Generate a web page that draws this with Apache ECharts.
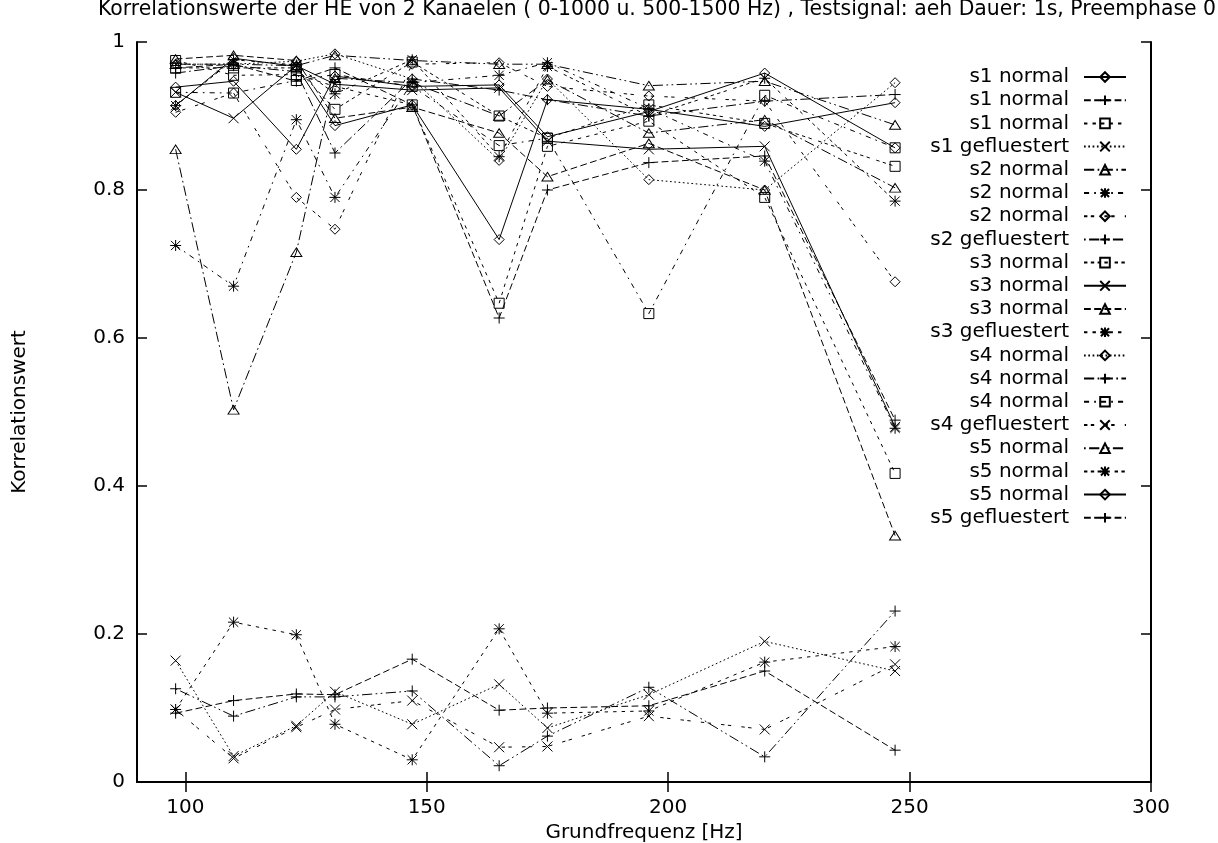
<!DOCTYPE html>
<html>
<head>
<meta charset="utf-8">
<script src="https://cdn.jsdelivr.net/npm/echarts@6/dist/echarts.min.js"></script>
<style>
  html, body { margin: 0; padding: 0; background: #fff; }
  #chart { width: 1218px; height: 843px; }
</style>
</head>
<body>
<div id="chart"></div>
<script>
// Fundamental frequencies of the test tones (Hz)
const freqs = [98, 110, 123, 131, 147, 165, 175, 196, 220, 247];
const xTicks = [100, 150, 200, 250, 300];

// Correlation values per speaker / recording
const s1NormalA   = [0.939, 0.947, 0.855, 0.954, 0.940, 0.942, 0.872, 0.906, 0.958, 0.857];
const s1NormalB   = [0.965, 0.970, 0.947, 0.965, 0.915, 0.627, 0.800, 0.837, 0.846, 0.489];
const s1NormalC   = [0.975, 0.955, 0.956, 0.940, 0.915, 0.647, 0.859, 0.893, 0.790, 0.417];
const s1Whisper   = [0.164, 0.035, 0.076, 0.122, 0.078, 0.132, 0.073, 0.118, 0.190, 0.150];
const s2NormalA   = [0.855, 0.503, 0.716, 0.951, 0.945, 0.900, 0.949, 0.877, 0.895, 0.803];
const s2NormalB   = [0.725, 0.670, 0.895, 0.790, 0.945, 0.955, 0.972, 0.910, 0.839, 0.478];
const s2NormalC   = [0.905, 0.931, 0.790, 0.747, 0.970, 0.972, 0.940, 0.927, 0.920, 0.676];
const s2Whisper   = [0.126, 0.089, 0.115, 0.115, 0.123, 0.022, 0.062, 0.128, 0.034, 0.231];
const s3NormalA   = [0.965, 0.965, 0.965, 0.909, 0.973, 0.900, 0.870, 0.915, 0.890, 0.832];
const s3NormalB   = [0.932, 0.897, 0.968, 0.943, 0.935, 0.938, 0.866, 0.855, 0.859, 0.480];
const s3NormalC   = [0.977, 0.982, 0.975, 0.897, 0.912, 0.877, 0.818, 0.863, 0.800, 0.333];
const s3Whisper   = [0.098, 0.216, 0.199, 0.078, 0.030, 0.207, 0.093, 0.096, 0.162, 0.183];
const s4NormalA   = [0.970, 0.970, 0.974, 0.984, 0.950, 0.840, 0.950, 0.814, 0.800, 0.945];
const s4NormalB   = [0.958, 0.968, 0.960, 0.850, 0.950, 0.935, 0.922, 0.900, 0.920, 0.929];
const s4NormalC   = [0.932, 0.931, 0.948, 0.956, 0.940, 0.860, 0.870, 0.633, 0.928, 0.857];
const s4Whisper   = [0.098, 0.032, 0.074, 0.098, 0.110, 0.047, 0.048, 0.089, 0.071, 0.159];
const s5NormalA   = [0.970, 0.970, 0.968, 0.982, 0.975, 0.970, 0.970, 0.941, 0.947, 0.888];
const s5NormalB   = [0.914, 0.976, 0.969, 0.930, 0.976, 0.845, 0.967, 0.900, 0.951, 0.785];
const s5NormalC   = [0.914, 0.978, 0.967, 0.887, 0.915, 0.733, 0.922, 0.909, 0.886, 0.918];
const s5Whisper   = [0.093, 0.110, 0.119, 0.118, 0.166, 0.097, 0.100, 0.103, 0.150, 0.043];

const legendLabels = [
  's1 normal', 's1 normal', 's1 normal', 's1 gefluestert',
  's2 normal', 's2 normal', 's2 normal', 's2 gefluestert',
  's3 normal', 's3 normal', 's3 normal', 's3 gefluestert',
  's4 normal', 's4 normal', 's4 normal', 's4 gefluestert',
  's5 normal', 's5 normal', 's5 normal', 's5 gefluestert'
];
const seriesValues = [
  s1NormalA, s1NormalB, s1NormalC, s1Whisper,
  s2NormalA, s2NormalB, s2NormalC, s2Whisper,
  s3NormalA, s3NormalB, s3NormalC, s3Whisper,
  s4NormalA, s4NormalB, s4NormalC, s4Whisper,
  s5NormalA, s5NormalB, s5NormalC, s5Whisper
];

// Point markers, cycling like a plotter's point types
const markers = [
  { symbol: 'path://M5,0L10,5L5,10L0,5Z', size: 10 },                         // diamond
  { symbol: 'path://M5,0L5,10M0,5L10,5', size: 11 },                          // plus
  { symbol: 'path://M0,0L10,0L10,10L0,10Z', size: 10 },                       // square
  { symbol: 'path://M0,0L10,10M10,0L0,10', size: 10 },                        // cross
  { symbol: 'path://M5,0L10,8.66L0,8.66Z', size: [11, 10] },                  // triangle
  { symbol: 'path://M5,0L5,10M0,5L10,5M0.8,0.8L9.2,9.2M9.2,0.8L0.8,9.2', size: 11 } // star
];

// Dash patterns, cycling with period 9 (first one solid)
const dashes = [
  'solid',
  [6.8, 3.4],
  [3.4, 5.1],
  [1.7, 2.6],
  [10.2, 3.4, 1.7, 3.4],
  [5.1, 5.1, 1.7, 5.1],
  [3.4, 3.4, 3.4, 10.2],
  [1.7, 3.4, 10.2, 3.4, 1.7, 3.4],
  [3.4, 3.4, 3.4, 3.4, 3.4, 3.4, 3.4, 6.8]
];

const FONT = 'DejaVu Sans';

const series = seriesValues.map((vals, i) => {
  const m = markers[i % markers.length];
  return {
    name: legendLabels[i] + '|' + i,
    type: 'line',
    data: freqs.map((f, k) => [f, vals[k]]),
    symbol: m.symbol,
    symbolSize: m.size,
    showSymbol: true,
    symbolKeepAspect: true,
    lineStyle: { color: '#000', width: 1, type: dashes[i % dashes.length] },
    itemStyle: { color: 'rgba(0,0,0,0)', borderColor: '#000', borderWidth: 1 },
    emphasis: { disabled: true },
    z: 2
  };
});

const chart = echarts.init(document.getElementById('chart'), null, { renderer: 'canvas' });

const axisCommon = {
  axisLine: { show: true, lineStyle: { color: '#000', width: 2 } },
  splitLine: { show: false },
  axisTick: { show: true, inside: true, length: 10, lineStyle: { color: '#000', width: 1.5 } }
};

chart.setOption({
  animation: false,
  backgroundColor: '#fff',
  title: {
    text: 'Korrelationswerte der HE von 2 Kanaelen ( 0-1000 u. 500-1500 Hz) , Testsignal: aeh Dauer: 1s, Preemphase 0',
    left: 657,
    textAlign: 'center',
    top: 0,
    padding: 0,
    textStyle: { fontFamily: FONT, fontSize: 20.4, fontWeight: 'normal', color: '#000' }
  },
  grid: { left: 137, right: 67, top: 42, bottom: 61, containLabel: false, outerBoundsMode: 'none' },
  legend: {
    orient: 'vertical',
    right: 91,
    top: 67,
    padding: 0,
    align: 'right',
    itemWidth: 42,
    itemHeight: 12,
    itemGap: 3.2,
    selectedMode: false,
    formatter: (name) => name.split('|')[0],
    textStyle: { fontFamily: FONT, fontSize: 20, color: '#000', padding: [0, 10, 0, 0] }
  },
  xAxis: [
    Object.assign({}, axisCommon, {
      type: 'value', position: 'bottom', min: 90, max: 300,
      name: 'Grundfrequenz [Hz]', nameLocation: 'middle', nameGap: 38,
      nameTextStyle: { fontFamily: FONT, fontSize: 20, color: '#000' },
      axisTick: Object.assign({}, axisCommon.axisTick, { customValues: xTicks }),
      axisLabel: { customValues: xTicks, margin: 16, fontFamily: FONT, fontSize: 20, color: '#000' }
    }),
    Object.assign({}, axisCommon, {
      type: 'value', position: 'top', min: 90, max: 300,
      axisTick: Object.assign({}, axisCommon.axisTick, { customValues: xTicks }),
      axisLabel: { show: false }
    })
  ],
  yAxis: [
    Object.assign({}, axisCommon, {
      type: 'value', position: 'left', min: 0, max: 1, interval: 0.2,
      name: 'Korrelationswert', nameLocation: 'middle', nameGap: 107, nameRotate: 90,
      nameTextStyle: { fontFamily: FONT, fontSize: 20, color: '#000' },
      axisLabel: { margin: 12, fontFamily: FONT, fontSize: 20, color: '#000' }
    }),
    Object.assign({}, axisCommon, {
      type: 'value', position: 'right', min: 0, max: 1, interval: 0.2,
      axisLabel: { show: false }
    })
  ],
  series: series
});
</script>
</body>
</html>
